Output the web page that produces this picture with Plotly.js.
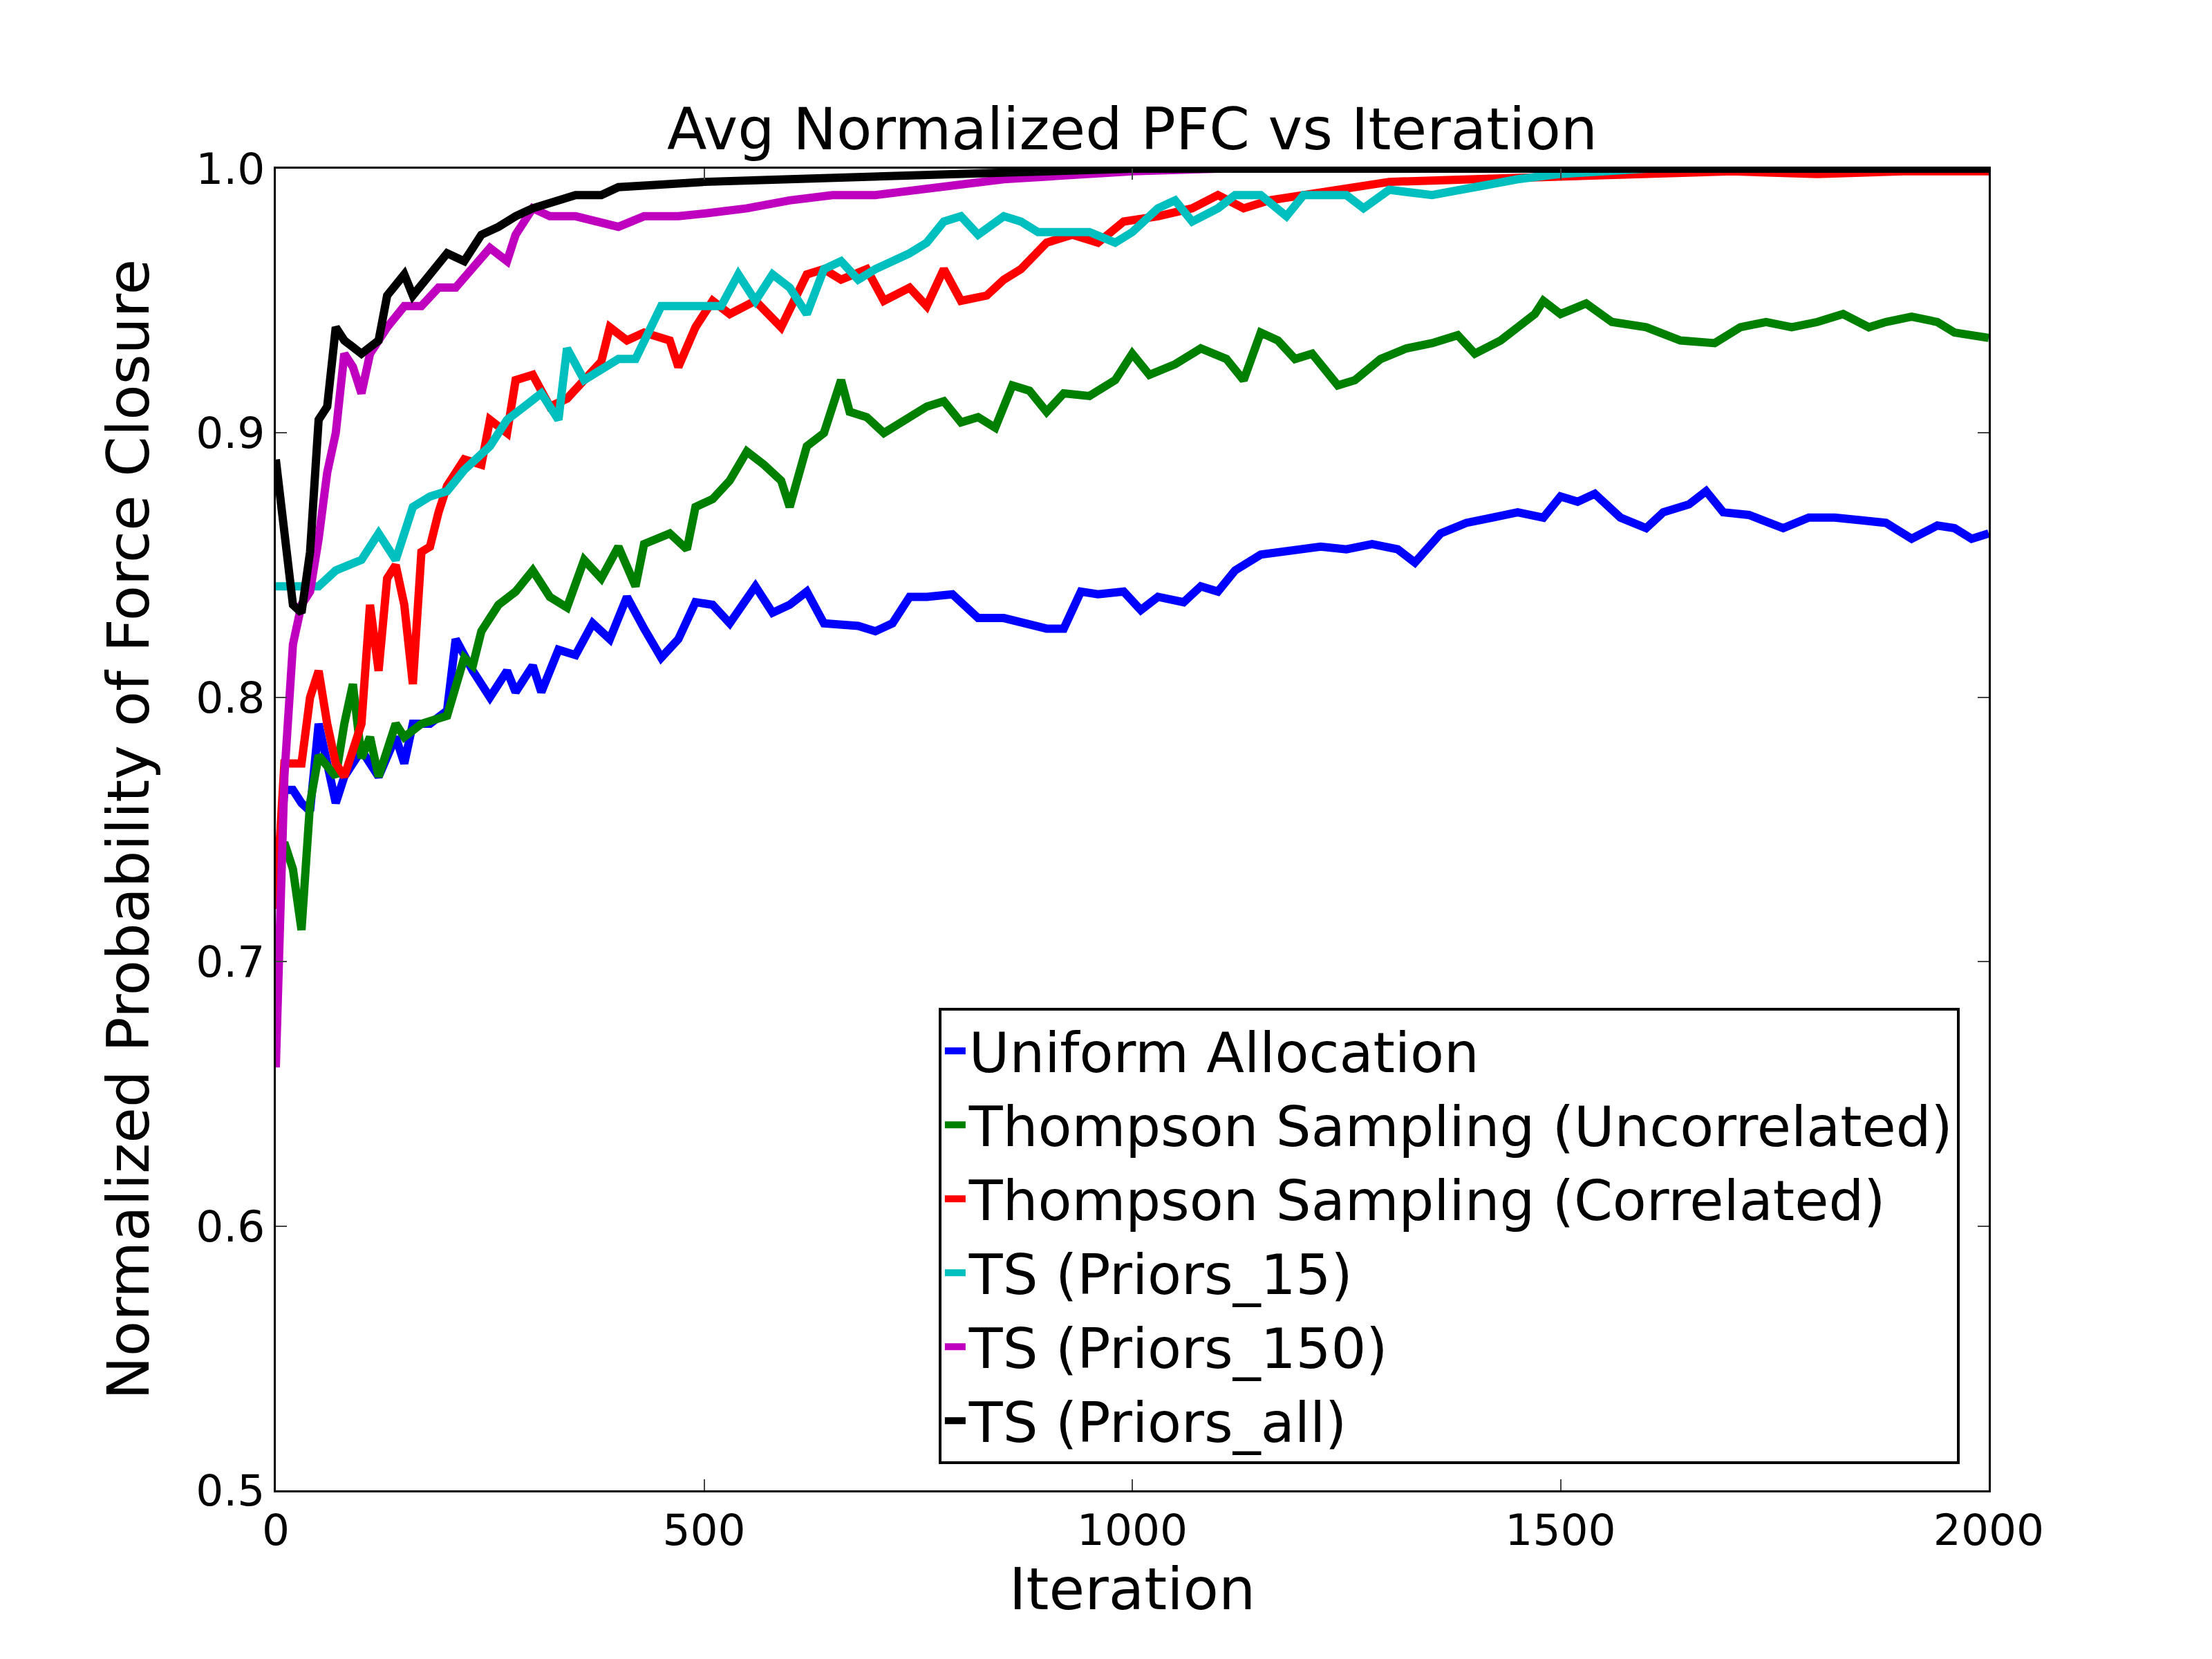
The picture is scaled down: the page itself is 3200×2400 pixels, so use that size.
<!DOCTYPE html>
<html>
<head>
<meta charset="utf-8">
<script src="https://cdn.plot.ly/plotly-3.0.1.min.js"></script>
<style>body{margin:0;background:#fff}</style>
</head>
<body>
<div id="chart"></div>
<script>
// values
const uniformX = [0,10,20,30,40,50,60,70,80,100,120,140,150,160,180,200,210,230,250,270,280,300,310,330,350,370,390,410,430,450,470,490,510,530,560,580,600,620,640,680,700,720,740,760,790,820,850,880,900,920,940,960,990,1010,1030,1060,1080,1100,1120,1150,1180,1220,1250,1280,1310,1330,1360,1390,1420,1450,1480,1500,1520,1540,1570,1600,1620,1650,1670,1690,1720,1760,1790,1820,1850,1880,1910,1940,1960,1980,2000];
const uniformY = [0.72,0.765,0.765,0.76,0.757,0.79,0.775,0.76,0.77,0.78,0.77,0.785,0.775,0.79,0.79,0.795,0.822,0.81,0.80,0.81,0.802,0.812,0.802,0.818,0.816,0.828,0.822,0.838,0.826,0.815,0.822,0.836,0.835,0.828,0.842,0.832,0.835,0.84,0.828,0.827,0.825,0.828,0.838,0.838,0.839,0.83,0.83,0.828,0.826,0.826,0.84,0.839,0.84,0.833,0.838,0.836,0.842,0.84,0.848,0.854,0.855,0.857,0.856,0.858,0.856,0.851,0.862,0.866,0.868,0.87,0.868,0.876,0.874,0.877,0.868,0.864,0.870,0.873,0.878,0.87,0.869,0.864,0.868,0.868,0.867,0.866,0.86,0.865,0.864,0.86,0.862];

const uncorrX = [0,10,20,30,40,50,70,80,90,100,110,120,140,150,170,200,220,230,240,260,280,300,320,340,360,380,400,420,430,460,480,490,510,530,550,570,590,600,620,640,660,670,690,710,730,760,780,800,820,840,860,880,900,920,950,980,1000,1020,1050,1080,1110,1130,1150,1170,1190,1210,1240,1260,1290,1320,1350,1380,1400,1430,1450,1470,1480,1500,1530,1560,1600,1640,1680,1710,1740,1770,1800,1830,1860,1880,1910,1940,1960,2000];
const uncorrY = [0.74,0.745,0.735,0.712,0.76,0.778,0.77,0.79,0.805,0.777,0.785,0.77,0.79,0.785,0.79,0.793,0.815,0.812,0.825,0.835,0.84,0.848,0.838,0.834,0.852,0.845,0.857,0.842,0.858,0.862,0.856,0.872,0.875,0.882,0.893,0.888,0.882,0.872,0.895,0.9,0.92,0.908,0.906,0.9,0.904,0.91,0.912,0.904,0.906,0.902,0.918,0.916,0.908,0.915,0.914,0.92,0.93,0.922,0.926,0.932,0.928,0.92,0.938,0.935,0.928,0.93,0.918,0.92,0.928,0.932,0.934,0.937,0.93,0.935,0.94,0.945,0.95,0.945,0.949,0.942,0.94,0.935,0.934,0.94,0.942,0.94,0.942,0.945,0.94,0.942,0.944,0.942,0.938,0.936];

const corrX = [0,10,30,40,50,60,70,80,90,100,110,120,130,140,150,160,170,180,190,200,220,240,250,270,280,300,320,340,360,380,390,410,430,460,470,490,510,530,560,590,620,640,660,690,710,740,760,780,800,830,850,870,900,930,960,990,1030,1070,1100,1130,1160,1200,1250,1300,1400,1500,1600,1700,1800,1900,2000];
const corrY = [0.72,0.775,0.775,0.8,0.81,0.79,0.775,0.77,0.78,0.79,0.835,0.81,0.845,0.85,0.835,0.805,0.855,0.857,0.87,0.88,0.89,0.888,0.905,0.9,0.92,0.922,0.91,0.913,0.92,0.927,0.94,0.935,0.938,0.935,0.925,0.94,0.95,0.945,0.95,0.94,0.96,0.962,0.958,0.962,0.95,0.955,0.948,0.962,0.95,0.952,0.958,0.962,0.972,0.975,0.972,0.98,0.982,0.985,0.99,0.985,0.988,0.99,0.992,0.995,0.996,0.997,0.998,0.999,0.998,0.999,0.999];

const p15X = [0,30,50,70,100,120,140,160,180,200,220,250,270,290,310,330,340,360,380,400,420,450,470,500,520,540,560,580,600,620,640,660,680,700,740,760,780,800,820,850,870,890,920,950,980,1000,1030,1050,1070,1100,1120,1150,1180,1200,1250,1270,1300,1350,1400,1450,1500,1550,1600];
const p15Y = [0.842,0.842,0.842,0.848,0.852,0.862,0.852,0.872,0.876,0.878,0.886,0.895,0.905,0.91,0.915,0.905,0.932,0.92,0.924,0.928,0.928,0.948,0.948,0.948,0.948,0.96,0.95,0.96,0.955,0.945,0.962,0.965,0.958,0.962,0.968,0.972,0.98,0.982,0.975,0.982,0.98,0.976,0.976,0.976,0.972,0.976,0.985,0.988,0.98,0.985,0.99,0.99,0.982,0.99,0.99,0.985,0.992,0.99,0.993,0.996,0.998,0.999,1.0];

const p150X = [0,10,20,30,40,50,60,70,80,90,100,110,130,150,170,190,210,230,250,270,280,300,320,350,380,400,430,470,500,550,600,650,700,750,800,850,900,950,1000,1100,2000];
const p150Y = [0.66,0.77,0.82,0.835,0.84,0.86,0.885,0.9,0.93,0.925,0.915,0.93,0.94,0.948,0.948,0.955,0.955,0.962,0.97,0.965,0.975,0.985,0.982,0.982,0.98,0.978,0.982,0.982,0.983,0.985,0.988,0.99,0.99,0.992,0.994,0.996,0.997,0.998,0.999,1.0,1.0];

const allX = [0,10,20,30,40,50,60,70,80,100,120,130,150,160,180,200,220,240,260,280,300,330,350,380,400,450,500,600,700,800,900,1000,2000];
const allY = [0.89,0.862,0.835,0.832,0.855,0.905,0.91,0.94,0.935,0.93,0.935,0.952,0.96,0.952,0.96,0.968,0.965,0.975,0.978,0.982,0.985,0.988,0.99,0.99,0.993,0.994,0.995,0.996,0.997,0.998,0.999,1.0,1.0];

const names = ["Uniform Allocation", "Thompson Sampling (Uncorrelated)", "Thompson Sampling (Correlated)",
               "TS (Priors_15)", "TS (Priors_150)", "TS (Priors_all)"];
const colors = ["#0000ff", "#008000", "#ff0000", "#00bfbf", "#bf00bf", "#000000"];
const xs = [uniformX, uncorrX, corrX, p15X, p150X, allX];
const ys = [uniformY, uncorrY, corrY, p15Y, p150Y, allY];

const font = "DejaVu Sans, sans-serif";
const series = names.map((n, i) => ({
    name: n, x: xs[i], y: ys[i], type: "scatter", mode: "lines",
    line: {color: colors[i], width: 12}
}));

const axis = {
    showgrid: false, zeroline: false, showline: true, mirror: "ticks",
    linecolor: "black", linewidth: 3, ticks: "inside", ticklen: 16, tickwidth: 2,
    tickfont: {family: font, size: 63, color: "black"}
};

const layout = {
    width: 3200, height: 2400,
    margin: {l: 399, r: 323, t: 244, b: 244},
    paper_bgcolor: "white", plot_bgcolor: "white",
    title: {text: "Avg Normalized PFC vs Iteration", font: {family: font, size: 84, color: "black"},
            x: 0.5, xref: "paper", y: 0.91, yanchor: "bottom"},
    xaxis: Object.assign({}, axis, {range: [0, 2000], tickvals: [0, 500, 1000, 1500, 2000],
            title: {text: "Iteration", font: {family: font, size: 84, color: "black"}, standoff: 20}}),
    yaxis: Object.assign({}, axis, {range: [0.5, 1.0], tickvals: [0.5, 0.6, 0.7, 0.8, 0.9, 1.0],
            tickformat: ".1f",
            title: {text: "Normalized Probability of Force Closure", font: {family: font, size: 84, color: "black"}, standoff: 40}}),
    showlegend: true,
    legend: {x: 0.983, y: 0.02, xanchor: "right", yanchor: "bottom",
             bgcolor: "white", bordercolor: "black", borderwidth: 4,
             font: {family: font, size: 80, color: "black"}, tracegroupgap: 0}
};

Plotly.newPlot("chart", series, layout, {displayModeBar: false, responsive: false});
</script>
</body>
</html>
